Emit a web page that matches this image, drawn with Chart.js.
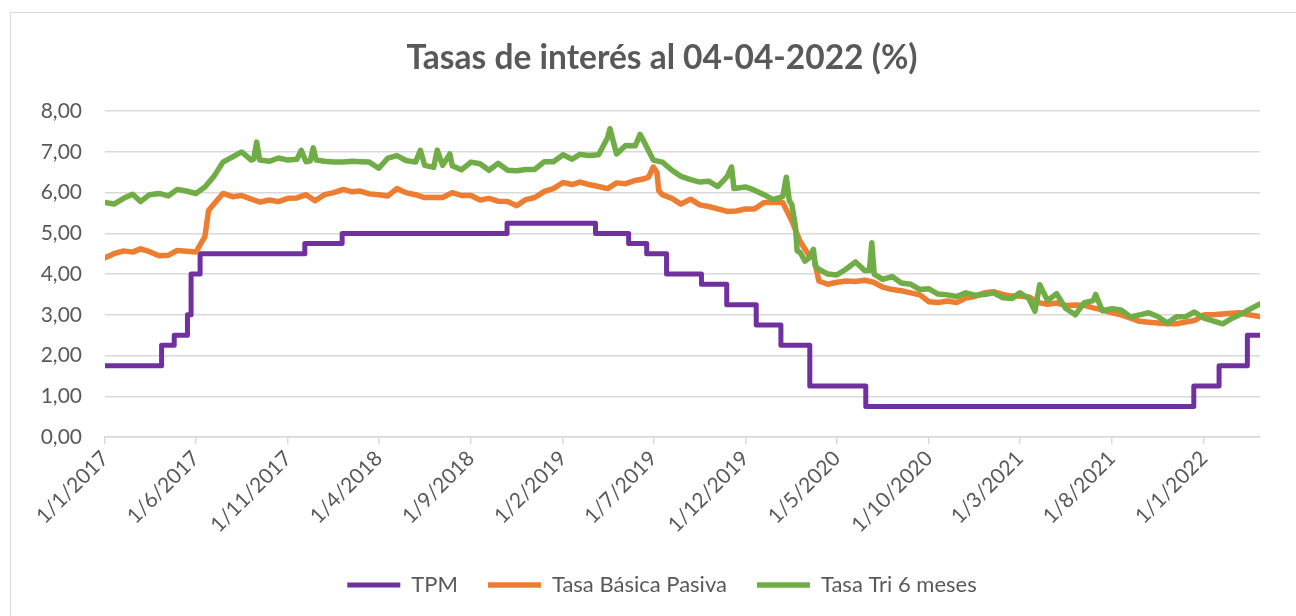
<!DOCTYPE html>
<html><head><meta charset="utf-8">
<script src="https://cdn.jsdelivr.net/npm/chart.js@4.4.0/dist/chart.umd.min.js"></script>
<style>
html,body{margin:0;padding:0;background:#fff;overflow:hidden;width:1296px;height:616px;}
#frame{position:absolute;left:10px;top:12px;width:1330px;height:650px;border:1.5px solid #D9D9D9;box-sizing:border-box;}
#wrap{position:absolute;left:10px;top:12px;width:1304px;height:604px;}
</style></head>
<body>
<div id="frame"></div>
<div id="wrap"><canvas id="c" width="1304" height="604"></canvas></div>
<script>
const chartTitle = 'Tasas de interés al 04-04-2022 (%)';
const seriesNames = ['TPM', 'Tasa Básica Pasiva', 'Tasa Tri 6 meses'];
const tickDates = ['2017-01-01','2017-06-01','2017-11-01','2018-04-01','2018-09-01','2019-02-01','2019-07-01','2019-12-01','2020-05-01','2020-10-01','2021-03-01','2021-08-01','2022-01-01'];
const tickLabels = ['1/1/2017','1/6/2017','1/11/2017','1/4/2018','1/9/2018','1/2/2019','1/7/2019','1/12/2019','1/5/2020','1/10/2020','1/3/2021','1/8/2021','1/1/2022'];
const startDate = '2017-01-01';
const endDate = '2022-04-04';

const tpmDates = ['2017-01-01','2017-04-05','2017-04-26','2017-05-18','2017-05-24','2017-06-08','2017-11-29','2018-01-30','2018-10-31','2019-03-27','2019-05-21','2019-06-20','2019-07-23','2019-09-19','2019-10-31','2019-12-19','2020-01-29','2020-03-17','2020-06-18','2021-12-15','2022-01-26','2022-03-14','2022-04-04'];
const tpmValues = [1.75,2.25,2.50,3.00,4.00,4.50,4.75,5.00,5.25,5.00,4.75,4.50,4.00,3.75,3.25,2.75,2.25,1.25,0.75,1.25,1.75,2.50,2.50];

const tbpDates = ['2017-01-01','2017-01-16','2017-02-01','2017-02-16','2017-03-01','2017-03-16','2017-04-01','2017-04-16','2017-05-01','2017-05-16','2017-06-01','2017-06-16','2017-06-22','2017-07-01','2017-07-16','2017-08-01','2017-08-16','2017-09-01','2017-09-16','2017-10-01','2017-10-16','2017-11-01','2017-11-16','2017-12-01','2017-12-16',
'2018-01-01','2018-01-16','2018-02-01','2018-02-16','2018-03-01','2018-03-16','2018-04-01','2018-04-16','2018-05-01','2018-05-16','2018-06-01','2018-06-16','2018-07-01','2018-07-16','2018-08-01','2018-08-16','2018-09-01','2018-09-16','2018-10-01','2018-10-16','2018-11-01','2018-11-16','2018-12-01','2018-12-16',
'2019-01-01','2019-01-16','2019-02-01','2019-02-16','2019-03-01','2019-03-16','2019-04-01','2019-04-16','2019-05-01','2019-05-16','2019-06-01','2019-06-16','2019-06-23','2019-07-01','2019-07-07','2019-07-10','2019-07-16','2019-08-01','2019-08-16','2019-09-01','2019-09-16','2019-10-01','2019-10-16','2019-11-01','2019-11-16','2019-12-01','2019-12-16',
'2020-01-01','2020-01-16','2020-02-01','2020-02-16','2020-03-01','2020-03-16','2020-03-24','2020-04-01','2020-04-16','2020-05-01','2020-05-16','2020-06-01','2020-06-16','2020-07-01','2020-07-16','2020-08-01','2020-08-16','2020-09-01','2020-09-16','2020-10-01','2020-10-16','2020-11-01','2020-11-16','2020-12-01','2020-12-16',
'2021-01-01','2021-01-16','2021-02-01','2021-02-16','2021-03-01','2021-03-16','2021-04-01','2021-04-16','2021-05-01','2021-05-16','2021-06-01','2021-06-16','2021-07-01','2021-07-16','2021-08-01','2021-08-16','2021-09-01','2021-09-16','2021-10-01','2021-10-16','2021-11-01','2021-11-16','2021-12-01','2021-12-16',
'2022-01-01','2022-01-16','2022-02-01','2022-02-16','2022-03-01','2022-03-16','2022-04-04'];
const tbpValues = [4.40,4.50,4.57,4.54,4.62,4.55,4.45,4.46,4.58,4.56,4.54,4.92,5.56,5.72,5.98,5.90,5.93,5.84,5.77,5.82,5.78,5.86,5.87,5.95,5.80,
5.95,6.00,6.08,6.02,6.04,5.97,5.95,5.92,6.10,6.00,5.95,5.88,5.88,5.88,6.00,5.93,5.93,5.82,5.86,5.79,5.78,5.68,5.83,5.88,
6.03,6.10,6.25,6.20,6.26,6.20,6.15,6.10,6.24,6.22,6.30,6.34,6.38,6.63,6.50,6.05,5.95,5.86,5.72,5.84,5.70,5.66,5.60,5.54,5.55,5.60,5.60,
5.76,5.76,5.76,5.31,4.80,4.45,4.40,3.83,3.75,3.80,3.83,3.82,3.85,3.80,3.68,3.62,3.59,3.54,3.49,3.32,3.30,3.34,3.30,3.41,3.45,
3.54,3.57,3.50,3.46,3.46,3.44,3.30,3.26,3.29,3.23,3.24,3.23,3.17,3.12,3.05,3.00,2.92,2.84,2.82,2.80,2.78,2.78,2.82,2.86,
3.00,3.00,3.02,3.04,3.05,3.00,2.96];

const triDates = ['2017-01-01','2017-01-16','2017-02-01','2017-02-16','2017-03-01','2017-03-16','2017-04-01','2017-04-16','2017-05-01','2017-05-16','2017-06-01','2017-06-16','2017-07-01','2017-07-16','2017-08-01','2017-08-16','2017-09-01','2017-09-05','2017-09-10','2017-09-15','2017-10-01','2017-10-16','2017-11-01','2017-11-16','2017-11-23','2017-12-01','2017-12-08','2017-12-13','2017-12-18',
'2018-01-01','2018-01-16','2018-02-01','2018-02-16','2018-03-01','2018-03-16','2018-04-01','2018-04-16','2018-05-01','2018-05-16','2018-06-01','2018-06-09','2018-06-16','2018-07-01','2018-07-07','2018-07-16','2018-07-28','2018-08-01','2018-08-16','2018-09-01','2018-09-16','2018-10-01','2018-10-16','2018-11-01','2018-11-16','2018-12-01','2018-12-16',
'2019-01-01','2019-01-16','2019-02-01','2019-02-16','2019-03-01','2019-03-16','2019-04-01','2019-04-16','2019-04-20','2019-05-01','2019-05-16','2019-06-01','2019-06-09','2019-06-16','2019-07-01','2019-07-16','2019-08-01','2019-08-16','2019-09-01','2019-09-16','2019-10-01','2019-10-16','2019-11-01','2019-11-08','2019-11-12','2019-12-01','2019-12-16',
'2020-01-01','2020-01-16','2020-02-01','2020-02-07','2020-02-12','2020-02-16','2020-02-22','2020-02-25','2020-03-01','2020-03-09','2020-03-16','2020-03-23','2020-03-26','2020-04-01','2020-04-16','2020-05-01','2020-05-16','2020-06-01','2020-06-16','2020-06-24','2020-06-28','2020-07-02','2020-07-16','2020-08-01','2020-08-16','2020-09-01','2020-09-16','2020-10-01','2020-10-16','2020-11-01','2020-11-16','2020-12-01','2020-12-16',
'2021-01-01','2021-01-16','2021-02-01','2021-02-16','2021-03-01','2021-03-16','2021-03-26','2021-04-03','2021-04-16','2021-05-01','2021-05-16','2021-06-01','2021-06-16','2021-07-01','2021-07-05','2021-07-16','2021-08-01','2021-08-16','2021-09-01','2021-09-16','2021-10-01','2021-10-16','2021-11-01','2021-11-16','2021-12-01','2021-12-16',
'2022-01-01','2022-01-16','2022-02-01','2022-02-16','2022-03-01','2022-03-16','2022-04-04'];
const triValues = [5.76,5.72,5.86,5.96,5.78,5.95,5.98,5.92,6.08,6.04,5.98,6.14,6.40,6.75,6.88,7.00,6.80,6.82,7.24,6.80,6.77,6.85,6.80,6.82,7.04,6.76,6.78,7.10,6.80,
6.77,6.75,6.75,6.77,6.76,6.75,6.60,6.85,6.91,6.79,6.75,7.04,6.67,6.62,7.04,6.67,6.95,6.66,6.56,6.75,6.71,6.55,6.72,6.55,6.54,6.57,6.57,
6.76,6.76,6.93,6.82,6.94,6.91,6.93,7.35,7.57,6.95,7.16,7.15,7.43,7.24,6.80,6.75,6.55,6.40,6.32,6.26,6.28,6.15,6.40,6.63,6.10,6.14,6.06,
5.95,5.83,5.90,6.38,5.80,5.72,5.19,4.57,4.53,4.32,4.40,4.61,4.20,4.12,4.00,3.98,4.12,4.30,4.09,4.09,4.77,4.00,3.87,3.94,3.78,3.75,3.62,3.64,3.51,3.49,3.45,3.54,3.48,
3.50,3.54,3.42,3.40,3.54,3.40,3.09,3.74,3.35,3.52,3.16,3.00,3.30,3.35,3.50,3.10,3.15,3.12,2.95,3.00,3.05,2.96,2.80,2.95,2.95,3.07,
2.92,2.85,2.78,2.91,3.00,3.12,3.27];

const yTickMin = 0, yTickMax = 8, yTickStep = 1;

function toDay(s) {
  const [y, m, d] = s.split('-').map(Number);
  const [y0, m0, d0] = startDate.split('-').map(Number);
  return Math.round((Date.UTC(y, m - 1, d) - Date.UTC(y0, m0 - 1, d0)) / 86400000);
}
function pts(dates, vals) { return dates.map((d, i) => ({ x: toDay(d), y: vals[i] })); }

const FONT = 'Lato';
const GREY = '#595959';
const GRID = '#D9D9D9';

// centre title and legend on the (wider) Excel chart area, as in the reference
const centreShift = {
  id: 'centreShift',
  afterLayout(chart) {
    const dx = 27;
    [chart.titleBlock, chart.legend].forEach(b => { if (b) { b.left += dx; b.right += dx; } });
  }
};

new Chart(document.getElementById('c'), {
  type: 'line',
  plugins: [centreShift],
  data: {
    datasets: [
      { label: seriesNames[0], data: pts(tpmDates, tpmValues), borderColor: '#7030A0', backgroundColor: '#7030A0', stepped: 'before', borderWidth: 5, order: 2 },
      { label: seriesNames[1], data: pts(tbpDates, tbpValues), borderColor: '#ED7D31', backgroundColor: '#ED7D31', borderWidth: 5.5, order: 1 },
      { label: seriesNames[2], data: pts(triDates, triValues), borderColor: '#70AD47', backgroundColor: '#70AD47', borderWidth: 5.5, order: 0 }
    ]
  },
  options: {
    responsive: false,
    animation: false,
    events: [],
    datasets: { line: { pointRadius: 0, tension: 0, borderJoinStyle: 'round', borderCapStyle: 'round', fill: false } },
    layout: { padding: { left: 0, right: 54, top: 0, bottom: 10 } },
    plugins: {
      tooltip: { enabled: false },
      title: {
        display: true, text: chartTitle, color: GREY,
        font: { family: FONT, size: 33.5, weight: 'bold', lineHeight: 1.2 },
        padding: { top: 26, bottom: 33 }
      },
      legend: {
        position: 'bottom',
        labels: {
          usePointStyle: true, pointStyle: 'line', pointStyleWidth: 53, boxHeight: 22,
          color: GREY, font: { family: FONT, size: 22 }, padding: 30,
          sort: (a, b) => a.datasetIndex - b.datasetIndex
        }
      }
    },
    scales: {
      x: {
        type: 'linear', min: toDay(startDate), max: toDay(endDate),
        afterBuildTicks: (axis) => { axis.ticks = tickDates.map(d => ({ value: toDay(d) })); },
        afterFit: (s) => { s.height = 107; },
        ticks: { autoSkip: false, minRotation: 45, maxRotation: 45, color: GREY, font: { family: FONT, size: 21 }, padding: 2,
          callback: (v, i) => tickLabels[i] },
        grid: { drawOnChartArea: false, drawTicks: true, tickLength: 7, color: GRID, lineWidth: 1.5 },
        border: { display: true, color: GRID, width: 1.5 }
      },
      y: {
        min: yTickMin, max: yTickMax,
        afterFit: (s) => { s.width = 95; },
        ticks: { stepSize: yTickStep, color: GREY, font: { family: FONT, size: 21 }, padding: 23,
          callback: (v) => v.toFixed(2).replace('.', ',') },
        grid: { color: GRID, lineWidth: 1.5, drawTicks: false },
        border: { display: false }
      }
    }
  }
});
</script>
</body></html>
